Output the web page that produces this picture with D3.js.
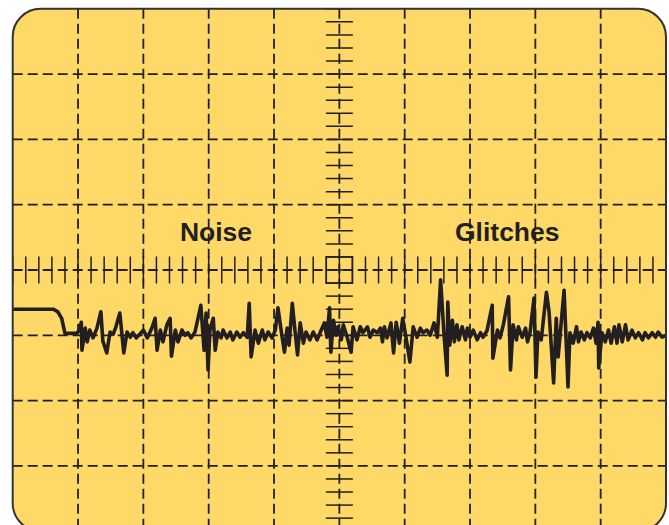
<!DOCTYPE html>
<html>
<head>
<meta charset="utf-8">
<script src="https://cdn.jsdelivr.net/npm/d3@7"></script>
<style>
  html, body { margin: 0; padding: 0; background: #ffffff; }
  svg { display: block; }
</style>
</head>
<body>
<div id="chart"></div>
<script>
// ---- data (screen in divisions: 10 horizontal x 8 vertical) ----
const divisionsX = [0, 1, 2, 3, 4, 5, 6, 7, 8, 9, 10];
const divisionsY = [-4, -3, -2, -1, 0, 1, 2, 3, 4];
const minorPerDivision = 5;
const labels = ["Noise", "Glitches"];
const labelTime = [2.56, 6.77];
const labelVolts = [0.45, 0.45];

const traceTime = [0.00,0.62,0.69,0.75,0.80,0.98,
1.02,1.05,1.06,1.11,1.14,1.18,1.23,1.29,1.35,1.38,1.44,1.49,1.54,1.58,1.64,1.70,1.75,1.80,1.84,1.89,1.93,2.00,2.06,2.13,2.18,2.21,2.26,2.30,2.36,2.41,2.43,2.49,2.53,2.59,2.64,2.68,2.73,2.79,
2.88,2.93,2.96,2.99,3.02,3.07,3.10,3.14,3.19,3.22,3.28,3.33,3.37,3.43,3.48,3.53,3.59,3.62,3.65,3.71,3.76,3.82,3.86,3.91,3.97,4.02,4.06,4.12,4.16,4.20,4.23,4.28,4.32,4.36,4.40,4.45,4.49,
4.55,4.60,4.66,4.71,4.77,4.81,4.85,4.87,4.91,4.95,4.98,5.03,5.06,5.12,5.18,5.21,5.27,5.32,5.36,5.43,5.47,5.52,5.58,5.63,5.66,5.69,5.73,5.79,5.83,5.87,5.92,5.97,6.02,6.08,6.13,6.19,6.24,6.28,6.34,6.39,6.45,6.50,
6.55,6.60,6.65,6.66,6.69,6.73,6.76,6.80,6.83,6.88,6.93,6.96,7.00,7.05,7.11,7.16,7.20,7.26,7.34,7.35,7.42,7.46,7.51,7.59,7.62,7.66,7.71,7.74,7.80,7.85,7.88,7.92,7.98,8.01,8.04,8.09,8.17,8.21,8.28,8.32,8.35,8.44,8.50,8.53,8.58,8.63,8.66,8.70,8.75,8.79,8.84,8.89,8.93,8.96,8.97,9.02,9.07,9.12,9.16,9.21,9.25,9.28,9.33,9.38,9.42,9.48,9.53,9.58,9.64,9.68,9.73,9.79,9.84,9.88,9.94,10.00];

const traceVolts = [-0.60,-0.60,-0.64,-0.74,-0.97,-0.97,
-0.92,-0.80,-1.23,-0.89,-1.10,-0.92,-1.04,-0.89,-0.64,-1.09,-1.27,-0.95,-0.98,-0.87,-0.66,-1.27,-0.95,-1.03,-0.96,-1.04,-1.00,-0.92,-1.04,-0.89,-0.74,-1.23,-0.92,-1.10,-0.84,-0.74,-1.32,-0.92,-1.10,-0.92,-1.00,-0.96,-1.04,-0.95,
-0.54,-1.23,-0.66,-1.53,-0.92,-0.74,-1.23,-0.95,-1.04,-0.92,-1.04,-0.95,-1.07,-0.95,-1.03,-0.96,-1.03,-0.51,-1.33,-0.92,-1.12,-0.92,-1.07,-0.95,-1.04,-0.92,-0.58,-1.00,-1.26,-0.89,-1.15,-0.51,-0.92,-1.30,-0.81,-1.12,-0.95,
-1.07,-0.95,-1.07,-0.95,-0.81,-1.03,-0.58,-1.26,-0.77,-1.00,-0.87,-1.07,-0.84,-1.03,-1.26,-0.87,-1.07,-0.87,-0.96,-0.87,-1.03,-0.92,-0.96,-0.89,-1.10,-0.87,-1.04,-0.81,-1.27,-0.80,-1.12,-0.74,-1.03,-1.41,-0.87,-1.03,-0.89,-0.96,-0.92,-1.00,-0.81,-1.03,
-0.15,-0.96,-1.61,-0.49,-1.15,-0.77,-1.10,-0.84,-1.07,-0.87,-1.07,-0.89,-1.03,-0.92,-1.07,-0.96,-1.03,-0.93,-0.54,-1.35,-0.92,-1.04,-0.84,-0.41,-1.53,-0.84,-1.07,-0.87,-1.03,-0.89,-1.10,-0.95,-0.43,-1.64,-0.95,-1.07,-0.34,-0.64,-1.73,-0.74,-1.33,-0.31,-1.79,-0.96,-1.12,-0.87,-1.10,-0.95,-1.07,-0.96,-1.04,-0.89,-1.12,-0.80,-1.50,-0.96,-1.10,-0.92,-1.12,-0.87,-1.12,-0.84,-1.10,-0.84,-1.07,-0.92,-1.04,-0.96,-1.07,-0.96,-1.04,-0.96,-1.03,-0.95,-1.03,-1.00];

// ---- layout ----
const W = 669, H = 525;
const x = d3.scaleLinear().domain([0, 10]).range([12.7, 666]);
const y = d3.scaleLinear().domain([-4, 4]).range([531.2, 8.8]);
const ink = "#231f20";
const screenFill = "#fed968";

const svg = d3.select("#chart").append("svg")
  .attr("width", W).attr("height", H);

const defs = svg.append("defs");
defs.append("clipPath").attr("id", "screenClip")
  .append("rect")
  .attr("x", x(0)).attr("y", y(4))
  .attr("width", x(10) - x(0)).attr("height", y(-4) - y(4))
  .attr("rx", 28).attr("ry", 28);

// screen background
svg.append("rect")
  .attr("x", x(0)).attr("y", y(4))
  .attr("width", x(10) - x(0)).attr("height", y(-4) - y(4))
  .attr("rx", 28).attr("ry", 28)
  .attr("fill", screenFill);

const g = svg.append("g").attr("clip-path", "url(#screenClip)");

// major dashed grid
const innerX = divisionsX.slice(1, -1);
const innerY = divisionsY.slice(1, -1);
g.selectAll("line.gx").data(innerX).join("line")
  .attr("class", "gx")
  .attr("x1", d => x(d)).attr("x2", d => x(d))
  .attr("y1", y(4)).attr("y2", y(-4))
  .attr("stroke", ink).attr("stroke-width", 1.8)
  .attr("stroke-dasharray", "10,5");
g.selectAll("line.gy").data(innerY).join("line")
  .attr("class", "gy")
  .attr("x1", x(0)).attr("x2", x(10))
  .attr("y1", d => y(d)).attr("y2", d => y(d))
  .attr("stroke", ink).attr("stroke-width", 1.8)
  .attr("stroke-dasharray", "10,5");

// minor ticks on centre axes
const minorX = d3.range(0, 10 * minorPerDivision + 1).map(i => i / minorPerDivision);
const minorY = d3.range(-4 * minorPerDivision, 4 * minorPerDivision + 1).map(i => i / minorPerDivision);
const tickHalf = 13.5;
g.selectAll("line.mx").data(minorX).join("line")
  .attr("class", "mx")
  .attr("x1", d => x(d)).attr("x2", d => x(d))
  .attr("y1", y(0) - tickHalf).attr("y2", y(0) + tickHalf)
  .attr("stroke", ink).attr("stroke-width", 1.5);
g.selectAll("line.my").data(minorY).join("line")
  .attr("class", "my")
  .attr("x1", x(5) - tickHalf).attr("x2", x(5) + tickHalf)
  .attr("y1", d => y(d)).attr("y2", d => y(d))
  .attr("stroke", ink).attr("stroke-width", 1.5);

// centre square
const sq = 1 / minorPerDivision;
g.append("rect")
  .attr("x", x(5 - sq)).attr("y", y(sq))
  .attr("width", x(5 + sq) - x(5 - sq)).attr("height", y(-sq) - y(sq))
  .attr("fill", "none").attr("stroke", ink).attr("stroke-width", 1.5);

// trace
const traceData = traceTime.map((t, i) => [t, traceVolts[i]]);
g.append("path")
  .datum(traceData)
  .attr("d", d3.line().x(d => x(d[0])).y(d => y(d[1])))
  .attr("fill", "none").attr("stroke", ink)
  .attr("stroke-width", 3.6).attr("stroke-linejoin", "round")
  .attr("stroke-linecap", "round");

// labels
svg.selectAll("text.lbl").data(labels).join("text")
  .attr("class", "lbl")
  .attr("x", (d, i) => x(labelTime[i]))
  .attr("y", (d, i) => y(labelVolts[i]))
  .attr("font-family", "'Liberation Sans', Arial, Helvetica, sans-serif")
  .attr("font-weight", "bold")
  .attr("font-size", 26.5)
  .attr("fill", ink)
  .text(d => d);

// screen border
svg.append("rect")
  .attr("x", x(0)).attr("y", y(4))
  .attr("width", x(10) - x(0)).attr("height", y(-4) - y(4))
  .attr("rx", 28).attr("ry", 28)
  .attr("fill", "none").attr("stroke", "#333333").attr("stroke-width", 2);
</script>
</body>
</html>
